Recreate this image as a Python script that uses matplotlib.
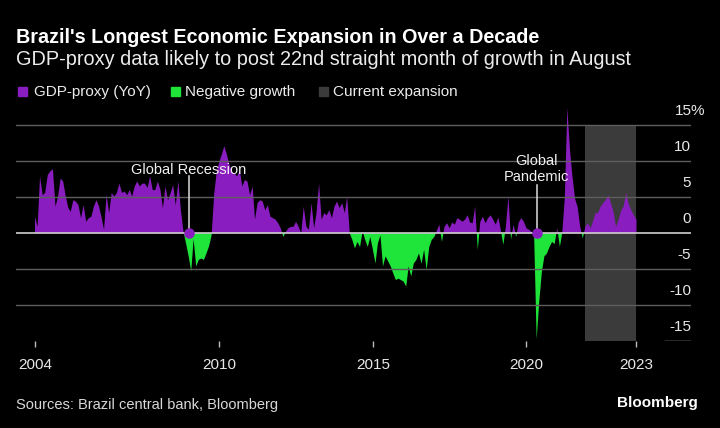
import pandas as pd
import matplotlib
matplotlib.use("Agg")
import matplotlib.pyplot as plt
import matplotlib.transforms as mtransforms
from matplotlib.patches import Rectangle

# monthly GDP-proxy (IBC-Br) YoY %, Jan 2004 onwards
gdp_yoy = [
    2.3, 0.9, 7.9, 5.3, 5.6, 8.1, 8.6, 8.9, 3.7, 5.1, 7.6, 7.2,
    5.1, 3.5, 3.0, 4.6, 4.4, 3.9, 2.1, 3.9, 1.6, 2.1, 2.3, 3.7,
    4.6, 3.7, 2.3, 0.5, 5.3, 2.8, 5.6, 5.1, 5.6, 6.9, 5.6, 5.8,
    5.3, 6.0, 5.1, 6.5, 7.2, 6.5, 6.9, 6.9, 6.3, 7.9, 6.0, 6.0,
    7.2, 6.0, 3.5, 6.5, 4.6, 5.6, 6.7, 3.9, 7.2, 3.2, 0.2, -1.4,
    -3.2, -5.3, -0.8, -4.6, -3.7, -3.5, -3.7, -2.8, -1.8, -0.3, 5.5, 8.5,
    9.9, 11.0, 12.1, 10.9, 9.5, 8.5, 8.3, 7.9, 8.8, 6.5, 7.4, 7.2,
    5.3, 6.5, 1.9, 4.2, 4.6, 4.4, 3.2, 3.9, 2.3, 2.1, 1.9, 1.4,
    0.7, -0.5, 0.2, 0.7, 0.9, 0.9, 1.6, 0.9, 0.0, 3.7, 0.9, 0.5,
    4.2, 0.7, 2.8, 6.9, 1.9, 2.8, 2.5, 3.2, 2.1, 3.7, 4.4, 3.5,
    4.2, 2.8, 5.1, 0.0, -0.9, -2.1, -1.2, -1.9, 0.3, -0.9, -1.9, -0.5,
    -2.3, -4.2, -1.4, -0.3, -4.6, -3.2, -3.9, -4.6, -5.6, -6.5, -6.3, -6.5,
    -6.7, -7.4, -4.6, -6.0, -4.2, -3.7, -2.8, -4.2, -2.3, -5.1, -1.9, -0.9,
    -0.5, 0.4, 1.2, -1.2, 0.9, 1.4, 0.7, 1.5, 1.2, 2.1, 1.9, 1.6,
    1.9, 2.5, 1.5, 1.4, 3.7, -2.3, 1.6, 2.3, 1.4, 2.1, 2.5, 1.9,
    1.2, 2.2, 0.5, -1.6, 0.9, 5.1, -0.9, 1.2, -0.5, 1.5, 2.1, 1.6,
    0.7, 0.5, 0.2, -0.3, -14.7, -9.5, -5.5, -3.2, -2.8, -1.9, -1.2, -1.5,
    0.7, -1.9, 0.0, 5.0, 17.4, 11.6, 7.9, 4.8, 3.6, 0.9, -0.7, 0.9,
    1.4, 0.7, 1.6, 2.8, 2.8, 3.7, 4.2, 4.6, 5.3, 4.2, 3.0, 0.9,
    1.9, 3.2, 3.7, 5.6, 4.0, 3.2, 2.5, 1.9,
]
start_month = "2004-01-01"
expansion_start = "2021-12-01"
tick_dates = ["2004-01-01", "2010-01-01", "2015-01-01", "2020-01-01"]
tick_labels = ["2004", "2010", "2015", "2020", "2023"]
y_ticks = [15, 10, 5, 0, -5, -10, -15]
y_labels = ["15%", "10", "5", "0", "-5", "-10", "-15"]
events = [("2009-01-01", "Global Recession", 8.2, 7.9),
          ("2020-05-01", "Global\nPandemic", 7.3, 6.7)]

PURPLE = "#8a1dbf"
GREEN = "#1fe43a"
BAND = "#3b3b3b"
FONT = "Liberation Sans"

W, H = 720, 428
fig = plt.figure(figsize=(W / 100, H / 100), dpi=100, facecolor="black")


def px(x):
    return x / W


def py(y):
    return 1 - y / H


dates = pd.date_range(start_month, periods=len(gdp_yoy), freq="MS")
vals = pd.Series(gdp_yoy, index=dates)

# axes spans 16..691 px horizontally, -15 level at 341 px, 7.2 px per point
ax = fig.add_axes([px(16), py(341.3), px(691 - 16), (341.3 - 100.1) / H])
ax.set_facecolor("black")
for s in ax.spines.values():
    s.set_visible(False)

d0 = pd.Timestamp(start_month)
day_px = 30.44 / 2.56
ax.set_xlim(d0 - pd.Timedelta(days=19 * day_px), d0 + pd.Timedelta(days=656 * day_px))
ax.set_ylim(-15, 18.5)

ax.axvspan(pd.Timestamp(expansion_start), dates[-1], ymin=0, ymax=30 / 33.5,
           color=BAND, lw=0, zorder=1)

ax.fill_between(dates, 0, vals, where=vals >= 0, interpolate=True,
                color=PURPLE, lw=0, zorder=2)
ax.fill_between(dates, 0, vals, where=vals <= 0, interpolate=True,
                color=GREEN, lw=0, zorder=2)

for v in y_ticks:
    if v == 0:
        ax.axhline(0, color="#cfcfcf", lw=1.2, zorder=3)
    elif v == -15:
        ax.axhline(v, xmin=(665 - 16) / 675, xmax=1, color="#cfcfcf", lw=1.0, zorder=3)
    else:
        ax.axhline(v, color="#5e5e5e", lw=1.0, zorder=3)

lab_tr = mtransforms.offset_copy(ax.get_yaxis_transform(), fig=fig, y=10, units="dots")
pct_tr = mtransforms.offset_copy(ax.get_yaxis_transform(), fig=fig, x=14, y=10, units="dots")
for v, lab in zip(y_ticks, y_labels):
    ax.text(1.0, v, lab, transform=pct_tr if lab.endswith("%") else lab_tr,
            ha="right", va="baseline", color="#e8e8e8", fontsize=11, family=FONT,
            zorder=5, clip_on=False)

for d, label, text_y, line_top in events:
    dt = pd.Timestamp(d)
    ax.plot([dt, dt], [0, line_top], color="#dddddd", lw=1.1, zorder=4)
    ax.plot(dt, 0, "o", color=PURPLE, markersize=6.5, zorder=6)
    ax.text(dt, text_y, label, ha="center", va="baseline", color="#f0f0f0",
            fontsize=10.5, family=FONT, linespacing=1.15, zorder=6)

ticks = [pd.Timestamp(t) for t in tick_dates] + [dates[-1]]
ax.set_xticks(ticks)
ax.set_xticklabels(tick_labels)
ax.tick_params(axis="x", colors="#bbbbbb", length=4, width=1, pad=8,
               labelcolor="#e8e8e8", labelsize=11)
for t in ax.get_xticklabels():
    t.set_family(FONT)
ax.set_yticks([])

# header
renderer = fig.canvas.get_renderer()


def fitted_text(x, y, s, width_px, **kw):
    t = fig.text(px(x), py(y), s, **kw)
    w = t.get_window_extent(renderer).width
    t.set_fontsize(t.get_fontsize() * width_px / w)
    return t


fitted_text(16, 43, "Brazil's Longest Economic Expansion in Over a Decade", 526,
            color="white", fontsize=15, weight="bold", family=FONT, va="baseline")
fitted_text(16, 65, "GDP-proxy data likely to post 22nd straight month of growth in August", 618,
            color="#ececec", fontsize=14, family=FONT, va="baseline")

legend = [(18, 34, PURPLE, "GDP-proxy (YoY)"),
          (171, 185, GREEN, "Negative growth"),
          (319, 333, BAND, "Current expansion")]
for sx, tx, col, label in legend:
    fig.patches.append(Rectangle((px(sx), py(96)), px(9), 9 / H, color=col,
                                 transform=fig.transFigure))
    fig.text(px(tx), py(96), label, color="#ececec", fontsize=11, family=FONT, va="baseline")

fig.text(px(16), py(405), "Sources: Brazil central bank, Bloomberg", color="#d8d8d8",
         fontsize=10.5, family=FONT, va="center")
fig.text(px(698), py(403), "Bloomberg", color="white", fontsize=11, weight="bold",
         family=FONT, va="center", ha="right")

fig.savefig("out.png", dpi=100, facecolor="black")
